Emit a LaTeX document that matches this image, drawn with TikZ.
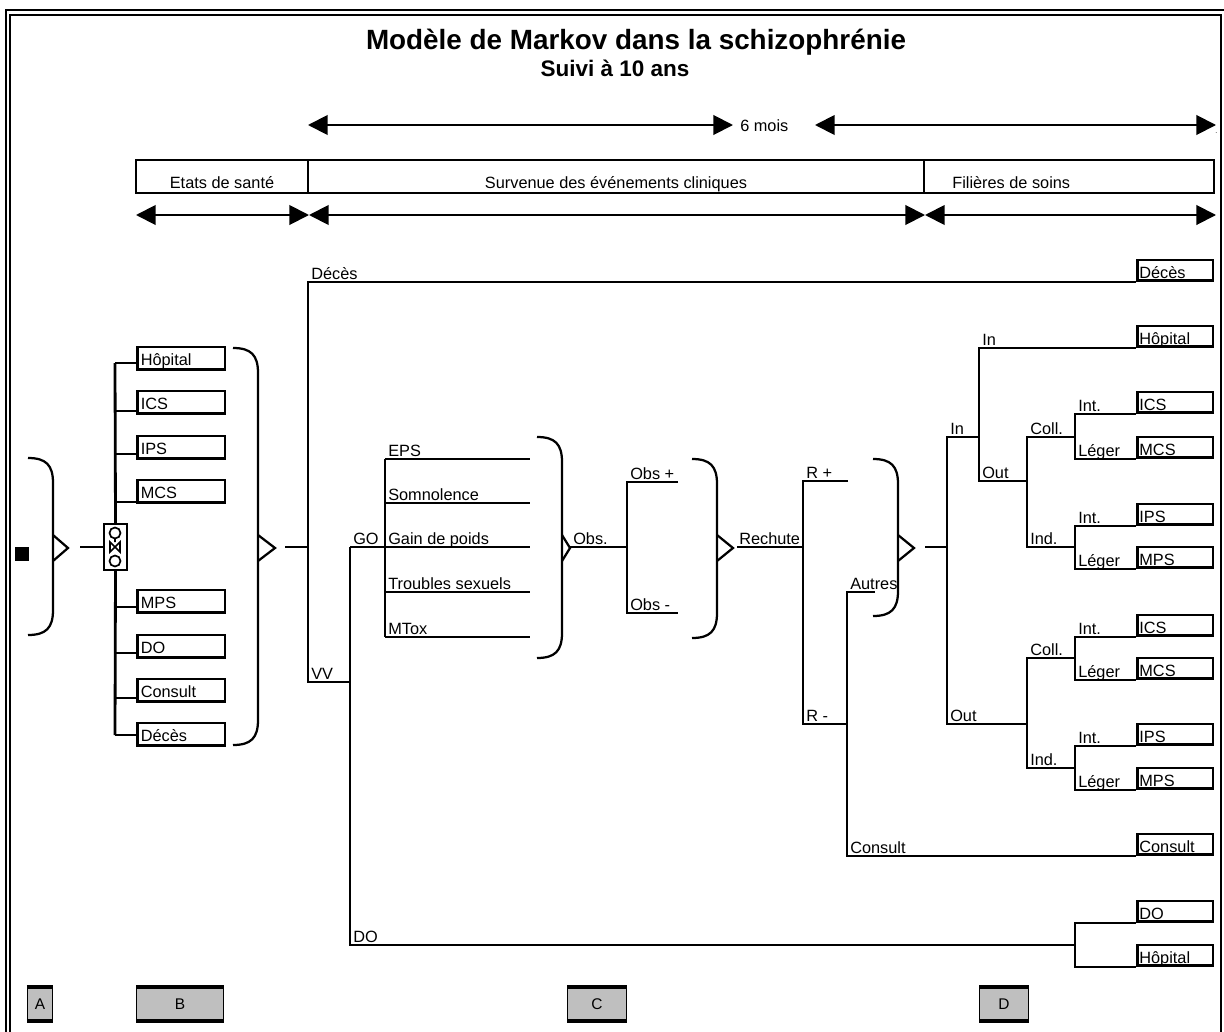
\documentclass[tikz,border=0pt]{standalone}
\usepackage{fontspec}
\setmainfont{Liberation Sans}
\usetikzlibrary{arrows.meta}

\tikzset{
  branche/.style={line width=2pt},
  fil/.style={line width=1.3pt},
  accol/.style={line width=1.6pt},
  lab/.style={anchor=base west, inner sep=0pt, font=\fontsize{11.6}{13}\selectfont},
  etatd/.style={draw, line width=1.8pt, anchor=south west, inner xsep=1.5pt, inner ysep=0pt,
    text width=50.9pt, text height=13.3pt, text depth=1.6pt, font=\fontsize{11.6}{13}\selectfont},
  etatg/.style={etatd, inner xsep=2.5pt, text width=57.4pt, text height=13.3pt, text depth=3pt},
  duree/.style={line width=1.4pt, {Triangle[length=14pt,width=14pt]}-{Triangle[length=14pt,width=14pt]}},
  phase/.style={draw, fill=gray!50, line width=0.8pt, minimum height=23.4pt, inner sep=0pt,
    font=\fontsize{11}{13}\selectfont},
}

\newcommand{\accolade}[4]{%
  \draw[accol] (#1,#2) .. controls (#1+18,#2) and (#1+25,#2+7) .. (#1+25,#2+25)
    -- (#1+25,#3-25) .. controls (#1+25,#3-7) and (#1+18,#3) .. (#1,#3);
  \draw[accol] (#1+25,535) -- (#1+25+#4,548) -- (#1+25,561);
}

\begin{document}
\begin{tikzpicture}[x=0.025cm, y=-0.025cm]
  \useasboundingbox (0,0) rectangle (1224,1032);

  \draw[line width=1.6pt] (6,1040) -- (6,10) -- (1226,10) -- (1226,1040);
  \draw[line width=1.2pt] (10,1040) -- (10,15) -- (1221,15) -- (1221,1040);

  \node[anchor=base, font=\bfseries\fontsize{19.8}{23}\selectfont] (titre) at (636,49) {Modèle de Markov dans la schizophrénie};
  \node[anchor=base, font=\bfseries\fontsize{16}{18}\selectfont] (soustitre) at (615,76) {Suivi à 10 ans};

  \draw[duree] (308,125) -- (733,125);
  \draw[duree] (815,125) -- (1216,125);
  \node[lab] (mois) at (740,131) {6 mois};
  \node[anchor=base west, inner sep=0pt, font=\tiny] (point) at (1215,133) {.};

  \draw[line width=2pt] (136,160) rectangle (1214,193);
  \draw[line width=1.5pt] (308,160) -- (308,193) (924,160) -- (924,193);
  \node[lab, anchor=base] (sante) at (222,188) {Etats de santé};
  \node[lab, anchor=base] (evenements) at (616,188) {Survenue des événements cliniques};
  \node[lab] (filieres) at (952,188) {Filières de soins};

  \draw[duree] (136,215) -- (309,215);
  \draw[duree] (309,215) -- (925,215);
  \draw[duree] (925,215) -- (1216,215);

  \node[fill, minimum size=10pt, inner sep=0pt] (depart) at (22,554) {};
  \accolade{28}{458}{635}{15}
  \node[draw, line width=1.4pt, minimum width=16.3pt, minimum height=32.6pt, inner sep=0pt] (noeud) at (115.5,547) {};
  \draw[line width=1.2pt] (115,533) circle (5.5) (115,561) circle (5.5) (115,538) -- (115,542);
  \draw[line width=1.2pt] (110,542) -- (120,552) -- (120,542) -- (110,552) -- cycle;
  \draw[branche] (80,547) -- (noeud.west);
  \draw[branche] (115,363) -- (noeud.north);
  \draw[branche] (noeud.south) -- (115,735);
  \foreach \yb/\yl/\t [count=\i] in {371/363/Hôpital, 415/411/ICS, 460/454/IPS, 504/502/MCS,
      614/607/MPS, 659/653/DO, 703/698/Consult, 747/735/Décès}
    {
      \node[etatg] (g\i) at (136,\yb) {\t};
      \draw[fil] (115,\yl) -- (g\i.west |- 0,\yl);
    }
  \accolade{233}{348}{745}{17}

  \foreach \y/\t [count=\i] in {282/Décès, 348/Hôpital, 414/ICS, 459/MCS, 526/IPS, 569/MPS,
      637/ICS, 680/MCS, 746/IPS, 790/MPS, 856/Consult, 923/DO, 967/Hôpital}
    \node[etatd] (d\i) at (1136,\y) {\t};

  \draw[branche] (285,547) -- (308,547);
  \draw[branche] (d1.south west) -| (308,682) -- (350,682);
  \draw[branche] (350,547) -- (350,945) -- (1075,945);
  \draw[branche] (d12.south west) -| (1075,945) |- (d13.south west);

  \draw[branche] (350,547) -- (385,547);
  \draw[branche] (385,459) -- (385,637);
  \foreach \y in {459,503,547,592,637}
    \draw[branche] (385,\y) -- (530,\y);
  \accolade{537}{437}{658}{8}

  \draw[branche] (570,547) -- (627,547);
  \draw[branche] (678,482) -| (627,613) -- (678,613);
  \accolade{692}{459}{638}{16}

  \draw[branche] (737,547) -- (803,547);
  \draw[branche] (848,481) -| (803,724) -- (847,724);
  \draw[branche] (875,592) -| (847,856) -- (d11.south west);
  \accolade{873}{459}{616}{16}

  \draw[branche] (925,547) -- (947,547);
  \draw[branche] (979,437) -| (947,724) -- (1027,724);
  \draw[branche] (d2.south west) -| (979,481) -- (1027,481);
  \draw[branche] (1075,437) -| (1027,547) -- (1075,547);
  \draw[branche] (d3.south west) -| (1075,459) -- (d4.south west);
  \draw[branche] (d5.south west) -| (1075,569) -- (d6.south west);
  \draw[branche] (1075,658) -| (1027,768) -- (1075,768);
  \draw[branche] (d7.south west) -| (1075,680) -- (d8.south west);
  \draw[branche] (d9.south west) -| (1075,790) -- (d10.south west);

  \foreach \x/\y/\t [count=\i] in {308/282/Décès, 308/682/VV, 350/547/GO, 385/459/EPS,
      385/503/Somnolence, 385/547/Gain de poids, 385/592/Troubles sexuels, 385/637/MTox,
      570/547/Obs., 627/482/Obs +, 627/613/Obs -, 736/547/Rechute, 803/481/R +, 803/724/R -,
      847/592/Autres, 847/856/Consult, 947/437/In, 947/724/Out, 979/348/In, 979/481/Out,
      1027/437/Coll., 1027/547/Ind., 1027/658/Coll., 1027/768/Ind.,
      1075/414/Int., 1075/459/Léger, 1075/526/Int., 1075/569/Léger,
      1075/637/Int., 1075/680/Léger, 1075/746/Int., 1075/790/Léger, 350/945/DO}
    \node[lab] (e\i) at (\x+3,\y-3) {\t};

  \foreach \x/\w/\t in {40/17.7pt/A, 180/61.6pt/B, 597/41.5pt/C, 1004/34.7pt/D}
    {
      \node[phase, minimum width=\w] (p\t) at (\x,1004) {\t};
      \draw[line width=2.2pt] (p\t.north west) -- (p\t.north east) (p\t.south west) -- (p\t.south east);
    }
\end{tikzpicture}
\end{document}
